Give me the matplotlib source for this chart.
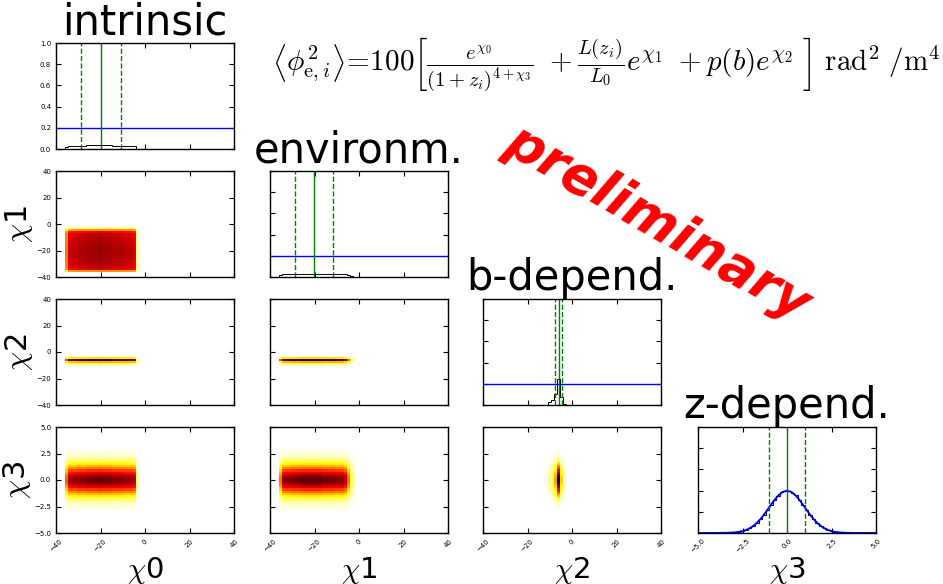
import numpy as np
import matplotlib
matplotlib.use("Agg")
import matplotlib.pyplot as plt

# ---------------- data ----------------
param_labels = [r"$\chi$0", r"$\chi$1", r"$\chi$2", r"$\chi$3"]
titles = ["intrinsic", "environm.", "b-depend.", "z-depend."]
param_ranges = [(-40.0, 40.0), (-40.0, 40.0), (-40.0, 40.0), (-5.0, 5.0)]
n_bins = [60, 60, 60, 50]

# marginal posterior densities (first non-empty bin index, densities)
chi0_first_bin = 3
chi0_density = [0.020, 0.031, 0.032, 0.032, 0.033, 0.033, 0.033, 0.034, 0.034,
                0.034, 0.034, 0.035, 0.034, 0.034, 0.034, 0.034, 0.033, 0.033,
                0.033, 0.033, 0.032, 0.032, 0.032, 0.030, 0.004]
chi1_first_bin = 3
chi1_density = [0.018, 0.030, 0.031, 0.031, 0.032, 0.032, 0.032, 0.033, 0.033,
                0.033, 0.033, 0.033, 0.033, 0.033, 0.033, 0.032, 0.032, 0.032,
                0.032, 0.031, 0.031, 0.031, 0.028, 0.018, 0.007, 0.002]
chi2_first_bin = 22
chi2_density = [0.026, 0.050, 0.100, 0.250, 0.080, 0.010]
chi3_first_bin = 9
chi3_density = [0.0033, 0.0062, 0.0100, 0.0180, 0.0290, 0.0430, 0.0660, 0.0950,
                0.1310, 0.1700, 0.2200, 0.2640, 0.3150, 0.3500, 0.3830, 0.3960,
                0.3980, 0.3800, 0.3540, 0.3100, 0.2680, 0.2160, 0.1720, 0.1280,
                0.0930, 0.0650, 0.0450, 0.0280, 0.0170, 0.0105, 0.0058, 0.0032]

medians = [-20.0, -20.2, -6.0, 0.0]
lower_q = [-28.6, -28.8, -7.6, -1.0]
upper_q = [-10.9, -11.7, -4.3, 0.99]

prior_level = [0.2, 0.2, 0.2]
z_prior_density = [0.0000, 0.0000, 0.0000, 0.0000, 0.0001, 0.0004, 0.0009, 0.0020,
                   0.0044, 0.0091, 0.0175, 0.0317, 0.0540, 0.0863, 0.1295, 0.1826,
                   0.2420, 0.3011, 0.3521, 0.3867, 0.3989, 0.3867, 0.3521, 0.3011,
                   0.2420, 0.1826, 0.1295, 0.0863, 0.0540, 0.0317, 0.0175, 0.0091,
                   0.0044, 0.0020, 0.0009, 0.0004, 0.0001, 0.0000, 0.0000, 0.0000,
                   0.0000]

formula = (r"$\left\langle\phi_{\mathrm{e},i}^{2}\right\rangle\!=\!100\left[\frac{e^{\chi_0}}"
           r"{(1+z_i)^{4+\chi_3}}\ +\frac{L(z_i)}{L_0}e^{\chi_1}\ +p(b)e^{\chi_2}\ \right]"
           r"\ \mathrm{rad}^2\ /\mathrm{m}^4$")

# ---------------- build histograms ----------------
starts = [chi0_first_bin, chi1_first_bin, chi2_first_bin, chi3_first_bin]
dens = [chi0_density, chi1_density, chi2_density, chi3_density]
edges = [np.linspace(lo, hi, n + 1) for (lo, hi), n in zip(param_ranges, n_bins)]
marg = []
for s, d, n in zip(starts, dens, n_bins):
    a = np.zeros(n)
    a[s:s + len(d)] = d
    marg.append(a)

# colour headroom per 2-D panel (styling)
headroom = {(1, 0): 1.25, (2, 0): 1.05, (2, 1): 1.05,
            (3, 0): 1.15, (3, 1): 1.15, (3, 2): 1.0}

# ---------------- figure ----------------
plt.rcParams.update({
    "xtick.direction": "in", "ytick.direction": "in",
    "xtick.top": True, "ytick.right": True,
    "xtick.major.size": 3.5, "ytick.major.size": 3.5,
    "xtick.major.width": 0.8, "ytick.major.width": 0.8,
    "axes.linewidth": 1.0,
    "xtick.labelsize": 5, "ytick.labelsize": 5,
    "mathtext.fontset": "cm",
})

fig = plt.figure(figsize=(9.43, 5.84), dpi=100)
FW, FH = 943.0, 584.0
lefts = [56, 270, 483, 698]
tops = [43, 171, 299, 427]
W, H = 178, 106


def add_ax(r, c):
    return fig.add_axes([lefts[c] / FW, 1 - (tops[r] + H) / FH, W / FW, H / FH])


def ticks_for(i):
    lo, hi = param_ranges[i]
    return np.linspace(lo, hi, 5)


for r in range(4):
    for c in range(r + 1):
        ax = add_ax(r, c)
        if r == c:
            ax.stairs(marg[c], edges[c], color="k", lw=0.7)
            if c < 3:
                ax.axhline(prior_level[c], color="b", lw=1.0)
            else:
                xz = np.linspace(param_ranges[3][0], param_ranges[3][1], len(z_prior_density))
                ax.plot(xz, z_prior_density, color="b", lw=1.4)
            ax.axvline(medians[c], color="g", lw=1.0)
            ax.axvline(lower_q[c], color="g", lw=1.0, ls="--")
            ax.axvline(upper_q[c], color="g", lw=1.0, ls="--")
            ax.set_ylim(0, 1)
            ax.set_yticks(np.linspace(0, 1, 6))
            ax.set_title(titles[c], fontsize=30, pad=0.5)
        else:
            Hc = np.outer(marg[r], marg[c])
            vmax = Hc.max() * headroom[(r, c)]
            ax.pcolormesh(edges[c], edges[r], Hc, cmap="hot_r", vmin=0, vmax=vmax)
            ax.set_ylim(*param_ranges[r])
            ax.set_yticks(ticks_for(r))
        ax.set_xlim(*param_ranges[c])
        ax.set_xticks(ticks_for(c))
        if c == 0:
            if r > 0:
                ax.set_ylabel(param_labels[r], fontsize=22, labelpad=1)
        else:
            ax.tick_params(labelleft=False)
        if r == 3:
            ax.set_xlabel(param_labels[c], fontsize=21)
            ax.xaxis.set_label_coords(0.5, -0.205)
            for lab in ax.get_xticklabels():
                lab.set_rotation(45)
        else:
            ax.tick_params(labelbottom=False)

fig.text(0.643, 0.889, formula, ha="center", va="center", fontsize=21)

fig.text(0.697, 0.618, "preliminary", color="red", fontsize=38,
         fontweight="bold", fontstyle="italic", rotation=-30,
         ha="center", va="center", rotation_mode="anchor")

fig.savefig("out.png", dpi=100)
